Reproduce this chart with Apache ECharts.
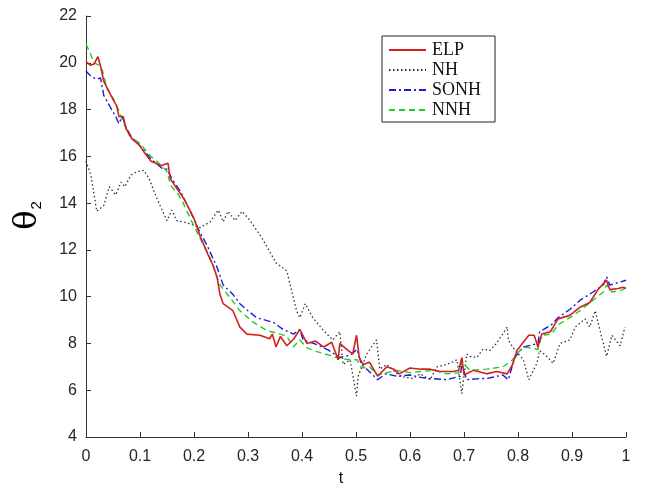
<!DOCTYPE html>
<html>
<head>
<meta charset="utf-8">
<script src="https://cdn.jsdelivr.net/npm/echarts@6/dist/echarts.min.js"></script>
<style>html,body{margin:0;padding:0;background:#fff}#c{width:655px;height:492px}</style>
</head>
<body>
<div id="c"></div>
<script>
// ---- data ----
var seriesNames = ['ELP', 'NH', 'SONH', 'NNH'];
var xTicks = [0, 0.1, 0.2, 0.3, 0.4, 0.5, 0.6, 0.7, 0.8, 0.9, 1];
var yTicks = [4, 6, 8, 10, 12, 14, 16, 18, 20, 22];

var elpT = [0,0.008,0.015,0.022,0.027,0.033,0.043,0.052,0.057,0.061,0.069,0.074,0.085,0.098,0.107,0.12,0.139,0.152,0.156,0.169,0.181,0.2,0.211,0.226,0.236,0.243,0.248,0.254,0.272,0.285,0.298,0.322,0.34,0.345,0.352,0.36,0.372,0.385,0.396,0.409,0.425,0.44,0.455,0.467,0.47,0.485,0.494,0.501,0.506,0.513,0.525,0.54,0.557,0.57,0.58,0.6,0.62,0.637,0.656,0.68,0.69,0.696,0.7,0.717,0.742,0.76,0.78,0.79,0.798,0.82,0.83,0.837,0.844,0.86,0.874,0.896,0.915,0.933,0.948,0.964,0.97,0.985,0.995,1];
var elpV = [20.05,19.9,19.95,20.26,19.85,19.2,18.75,18.35,18.15,17.7,17.7,17.2,16.75,16.5,16.2,15.8,15.6,15.7,15.05,14.6,14.2,13.35,12.6,11.8,11.3,10.8,10.1,9.7,9.4,8.7,8.4,8.35,8.2,8.4,7.85,8.3,7.9,8.2,8.6,8.0,8.1,7.85,8.05,7.3,8.0,7.7,7.55,8.35,7.4,7.1,7.2,6.6,7.0,6.9,6.7,6.95,6.9,6.9,6.8,6.8,6.85,7.4,6.65,6.85,6.7,6.8,6.7,7.1,7.7,8.35,8.35,7.85,8.4,8.5,9.05,9.2,9.55,9.75,10.3,10.7,10.3,10.35,10.4,10.35];

var nhT = [0,0.009,0.02,0.033,0.043,0.055,0.065,0.072,0.083,0.095,0.107,0.117,0.126,0.139,0.15,0.159,0.168,0.18,0.195,0.211,0.23,0.245,0.254,0.263,0.276,0.289,0.304,0.326,0.347,0.352,0.372,0.378,0.39,0.396,0.406,0.42,0.44,0.457,0.47,0.476,0.489,0.501,0.504,0.52,0.538,0.544,0.557,0.581,0.605,0.619,0.637,0.65,0.668,0.687,0.696,0.705,0.711,0.724,0.735,0.748,0.76,0.78,0.782,0.79,0.81,0.82,0.835,0.84,0.853,0.865,0.878,0.896,0.906,0.924,0.933,0.943,0.952,0.964,0.974,0.989,0.998];
var nhV = [15.8,15.2,13.65,13.9,14.7,14.35,14.9,14.7,15.2,15.35,15.4,15.05,14.5,13.8,13.25,13.7,13.25,13.2,13.1,12.95,13.2,13.7,13.2,13.65,13.25,13.65,13.25,12.5,11.65,11.45,11.1,10.5,9.4,9.1,9.7,9.1,8.55,8.15,8.5,7.1,7.3,5.75,6.6,7.55,8.15,6.9,7.1,6.6,6.5,6.7,6.45,7.0,7.1,7.3,5.85,7.55,7.45,7.4,7.75,7.7,8.0,8.7,8.15,7.85,7.3,6.45,7.15,7.7,7.45,7.15,8.0,8.15,8.7,9.05,8.7,9.4,8.55,7.45,8.35,7.9,8.7];

var sonhT = [0,0.01,0.02,0.027,0.033,0.045,0.055,0.061,0.067,0.075,0.085,0.1,0.12,0.14,0.15,0.16,0.175,0.193,0.21,0.224,0.243,0.254,0.272,0.285,0.3,0.316,0.347,0.365,0.384,0.396,0.402,0.428,0.45,0.47,0.49,0.502,0.51,0.52,0.54,0.555,0.575,0.6,0.62,0.637,0.668,0.693,0.696,0.705,0.73,0.742,0.772,0.782,0.794,0.81,0.837,0.84,0.862,0.874,0.896,0.915,0.939,0.958,0.964,0.97,0.985,1];
var sonhV = [19.65,19.4,19.3,19.35,18.6,18.1,17.7,17.4,17.7,17.2,16.8,16.45,15.9,15.5,15.45,15.0,14.5,13.65,12.8,12.2,11.24,10.5,10.1,9.7,9.4,9.1,8.9,8.6,8.4,8.6,8.15,7.95,7.7,7.4,7.5,7.75,7.1,6.9,6.45,6.7,6.6,6.65,6.55,6.5,6.45,6.6,7.1,6.45,6.5,6.5,6.65,6.45,7.4,7.85,8.0,8.5,8.8,9.1,9.45,9.85,10.2,10.5,10.85,10.5,10.6,10.7];

var nnhT = [0,0.008,0.015,0.024,0.03,0.039,0.05,0.06,0.068,0.08,0.1,0.12,0.14,0.15,0.157,0.17,0.18,0.193,0.211,0.23,0.248,0.267,0.285,0.31,0.335,0.36,0.372,0.384,0.396,0.41,0.428,0.45,0.47,0.49,0.502,0.51,0.525,0.54,0.575,0.6,0.619,0.645,0.668,0.69,0.696,0.711,0.742,0.772,0.79,0.798,0.81,0.837,0.844,0.862,0.874,0.896,0.915,0.939,0.958,0.964,0.974,0.995,1];
var nnhV = [20.8,20.4,20.0,19.9,19.7,18.9,18.5,18.0,17.5,16.9,16.55,16.0,15.6,15.35,14.75,14.4,14.0,13.35,12.5,11.65,10.5,9.95,9.4,8.9,8.55,8.4,8.3,7.85,8.15,7.8,7.65,7.5,7.35,7.3,7.3,6.95,7.0,6.65,6.85,6.75,6.8,6.85,6.7,6.75,7.2,6.85,6.9,7.0,7.3,7.55,7.85,7.75,8.35,8.4,8.8,9.1,9.4,9.85,10.2,10.5,10.2,10.3,10.45];

function pairs(t, v) { return t.map(function (x, i) { return [x, v[i]]; }); }

var chart = echarts.init(document.getElementById('c'), null, {renderer: 'canvas'});
var labelFont = {color: '#262626', fontSize: 16, fontFamily: 'Liberation Sans, Arial, sans-serif'};
chart.setOption({
  animation: false,
  backgroundColor: '#fff',
  grid: {left: 86, right: 29, top: 16, bottom: 51},
  legend: {
    orient: 'vertical',
    left: 382, top: 36,
    padding: [5, 14, 3, 6],
    itemGap: 2,
    itemWidth: 37, itemHeight: 14,
    borderColor: '#222', borderWidth: 1,
    backgroundColor: '#fff',
    itemStyle: {opacity: 0},
    textStyle: {color: '#111', fontSize: 18, fontFamily: 'Liberation Serif, Times New Roman, serif', padding: [0, 0, 0, 1]},
    data: seriesNames
  },
  xAxis: {
    type: 'value', min: 0, max: 1, interval: 0.1,
    name: 't', nameLocation: 'middle', nameGap: 34,
    nameTextStyle: {color: '#111', fontSize: 16, fontFamily: 'Liberation Sans, Arial, sans-serif', padding: [0, 30, 0, 0]},
    axisLine: {lineStyle: {color: '#333', width: 1}},
    axisTick: {inside: true, length: 5, lineStyle: {color: '#333'}},
    axisLabel: Object.assign({margin: 12, formatter: function (v) { return String(Math.round(v * 10) / 10); }}, labelFont),
    splitLine: {show: false}
  },
  yAxis: {
    type: 'value', min: 4, max: 22, interval: 2,
    name: '{a|θ}{b|2}', nameLocation: 'middle', nameGap: 42, nameRotate: 90,
    nameTextStyle: {
      padding: [0, 0, 0, 22],
      rich: {
        a: {fontSize: 32, color: '#000', fontFamily: 'DejaVu Serif, Liberation Serif, serif'},
        b: {fontSize: 15, color: '#000', fontFamily: 'Liberation Sans, Arial, sans-serif', verticalAlign: 'bottom', padding: [12, 0, 0, 1]}
      }
    },
    axisLine: {show: true, lineStyle: {color: '#333', width: 1}},
    axisTick: {show: true, inside: true, length: 5, lineStyle: {color: '#333'}},
    axisLabel: Object.assign({margin: 9}, labelFont),
    splitLine: {show: false}
  },
  series: [
    {name: 'ELP', type: 'line', symbol: 'none', data: pairs(elpT, elpV), z: 5,
     lineStyle: {color: '#d42020', width: 1.6, type: 'solid'}, itemStyle: {color: '#d42020'}},
    {name: 'NH', type: 'line', symbol: 'none', data: pairs(nhT, nhV), z: 2,
     lineStyle: {color: '#333', width: 1.3, type: [1.5, 2.5]}, itemStyle: {color: '#333'}},
    {name: 'SONH', type: 'line', symbol: 'none', data: pairs(sonhT, sonhV), z: 3,
     lineStyle: {color: '#1a1adb', width: 1.4, type: [7, 3, 2, 3]}, itemStyle: {color: '#1a1adb'}},
    {name: 'NNH', type: 'line', symbol: 'none', data: pairs(nnhT, nnhV), z: 4,
     lineStyle: {color: '#22cc22', width: 1.4, type: [6, 4]}, itemStyle: {color: '#22cc22'}}
  ]
});
</script>
</body>
</html>
